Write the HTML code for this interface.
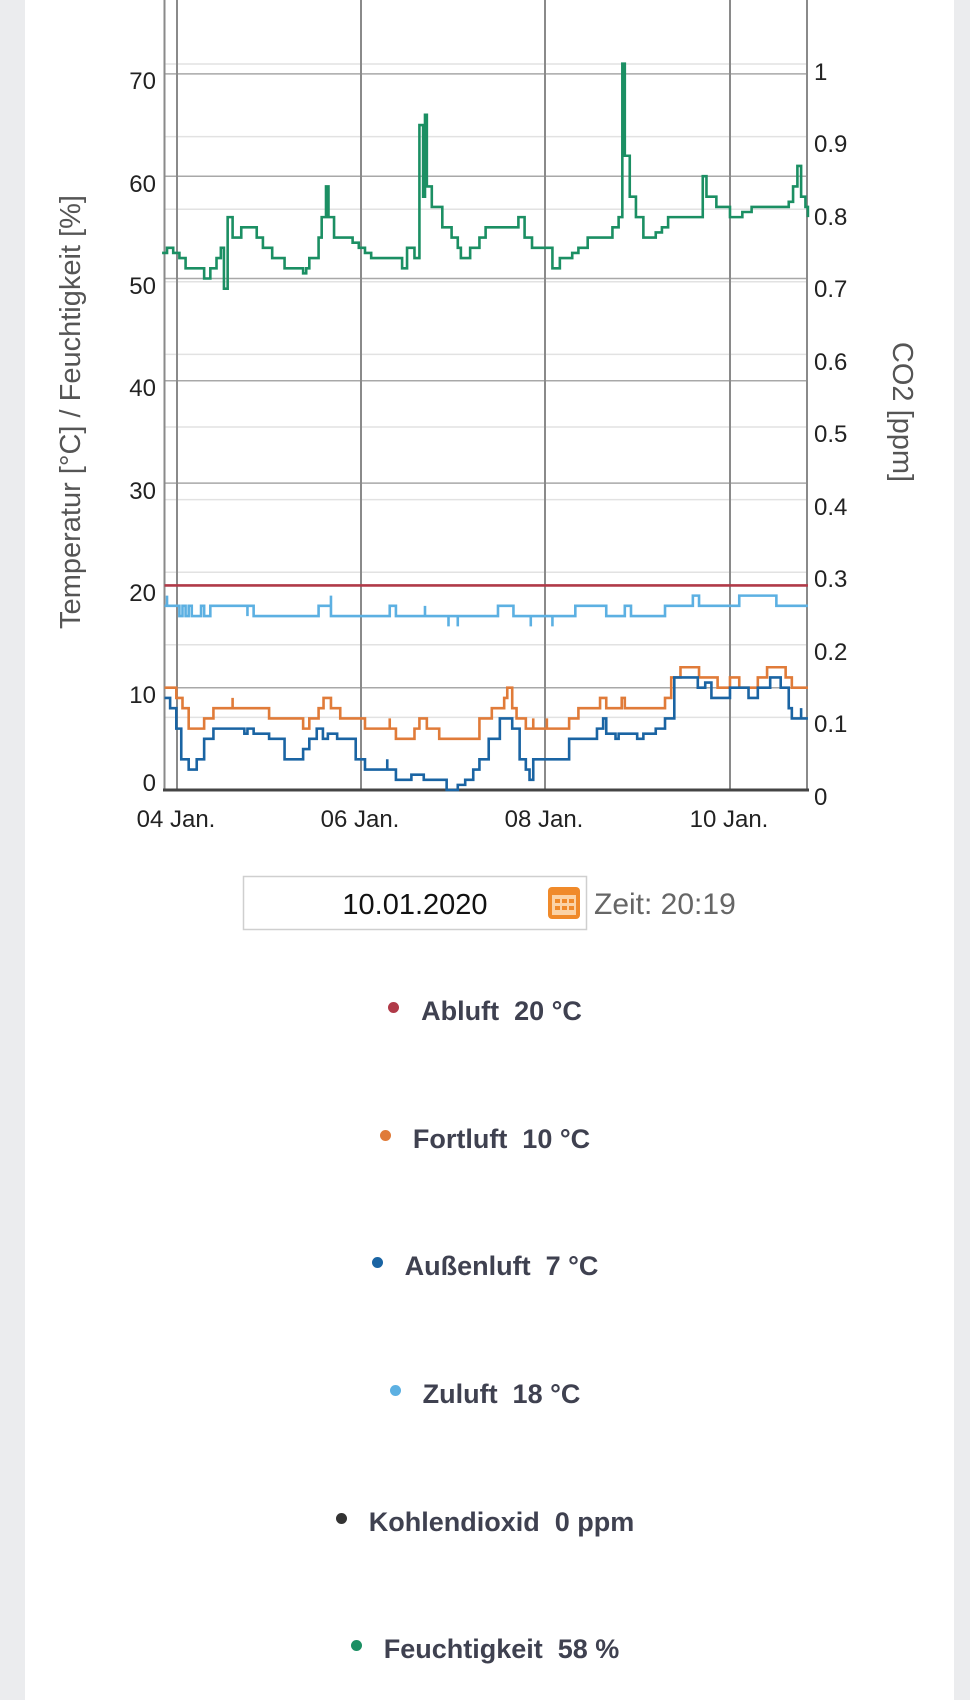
<!DOCTYPE html>
<html><head><meta charset="utf-8"><style>
html,body{margin:0;padding:0;}
body{width:970px;height:1700px;background:#ebecee;position:relative;overflow:hidden;font-family:"Liberation Sans",sans-serif;}
#card{position:absolute;left:25px;top:0;width:929px;height:1700px;background:#fff;}
svg{position:absolute;left:0;top:0;}
.leg{position:absolute;left:0;width:970px;text-align:center;font-weight:bold;font-size:27px;color:#3f4150;white-space:pre;}
.leg span.d{display:inline-block;width:11px;height:11px;border-radius:50%;margin-right:22px;vertical-align:7px;}
</style></head><body>
<div id="card"></div>
<svg width="970" height="1700" viewBox="0 0 970 1700">
  <g stroke="#e2e2e2" stroke-width="1.5">
    <line x1="164" x2="807" y1="717.4" y2="717.4"/><line x1="164" x2="807" y1="644.8" y2="644.8"/>
    <line x1="164" x2="807" y1="572.2" y2="572.2"/><line x1="164" x2="807" y1="499.6" y2="499.6"/>
    <line x1="164" x2="807" y1="427" y2="427"/><line x1="164" x2="807" y1="354.4" y2="354.4"/>
    <line x1="164" x2="807" y1="281.8" y2="281.8"/><line x1="164" x2="807" y1="209.2" y2="209.2"/>
    <line x1="164" x2="807" y1="136.6" y2="136.6"/><line x1="164" x2="807" y1="64" y2="64"/>
  </g>
  <g stroke="#a8a8a8" stroke-width="1.5">
    <line x1="164" x2="807" y1="687.7" y2="687.7"/><line x1="164" x2="807" y1="585.4" y2="585.4"/>
    <line x1="164" x2="807" y1="483.1" y2="483.1"/><line x1="164" x2="807" y1="380.8" y2="380.8"/>
    <line x1="164" x2="807" y1="278.5" y2="278.5"/><line x1="164" x2="807" y1="176.2" y2="176.2"/>
    <line x1="164" x2="807" y1="73.9" y2="73.9"/>
  </g>
  <g stroke="#8a8a8a" stroke-width="2">
    <line x1="177" x2="177" y1="0" y2="790"/><line x1="361" x2="361" y1="0" y2="790"/>
    <line x1="545" x2="545" y1="0" y2="790"/><line x1="730" x2="730" y1="0" y2="790"/>
    <line x1="807" x2="807" y1="0" y2="790"/><line x1="164.5" x2="164.5" y1="0" y2="790"/>
  </g>
  <line x1="163" x2="809" y1="790" y2="790" stroke="#444" stroke-width="3"/>
  <g font-size="24" fill="#222" text-anchor="end">
    <text x="156" y="89">70</text><text x="156" y="192">60</text><text x="156" y="294">50</text>
    <text x="156" y="396">40</text><text x="156" y="499">30</text><text x="156" y="601">20</text>
    <text x="156" y="703">10</text><text x="156" y="791">0</text>
  </g>
  <g font-size="24" fill="#222">
    <text x="814" y="80">1</text><text x="814" y="152">0.9</text><text x="814" y="225">0.8</text>
    <text x="814" y="297">0.7</text><text x="814" y="370">0.6</text><text x="814" y="442">0.5</text>
    <text x="814" y="515">0.4</text><text x="814" y="587">0.3</text><text x="814" y="660">0.2</text>
    <text x="814" y="732">0.1</text><text x="814" y="805">0</text>
  </g>
  <g font-size="24" fill="#222" text-anchor="middle">
    <text x="176" y="827">04 Jan.</text><text x="360" y="827">06 Jan.</text>
    <text x="544" y="827">08 Jan.</text><text x="729" y="827">10 Jan.</text>
  </g>
  <text transform="translate(80,412) rotate(-90)" font-size="29" fill="#555" text-anchor="middle">Temperatur [°C] / Feuchtigkeit [%]</text>
  <text transform="translate(893,412) rotate(90)" font-size="29" fill="#555" text-anchor="middle">CO2 [ppm]</text>

  <g transform="matrix(0.61862,0,0,-10.23,0,790)" fill="none" stroke-width="2.6" stroke-linejoin="miter">
    <path vector-effect="non-scaling-stroke" stroke="#b03a48" d="M266 20 H1306"/>
    <path vector-effect="non-scaling-stroke" stroke="#5cb0e2" d="M266 18 H270 V19 V18 H290 V17 H295 V18 H300 V17 H305 V18 H310 V17 H325 V18 H330 V17 H340 V18 H400 V17 V18 H410 V17 H515 V18 H535 V19 V17 H630 V18 H640 V17 H687 V18 V17 H725 V16 V17 H740 V16 V17 H805 V18 H830 V17 H858 V16 V17 H893 V16 V17 H930 V18 H980 V17 H1010 V18 H1020 V17 H1075 V18 H1120 V19 H1130 V18 H1195 V19 H1255 V18 H1306"/>
    <path vector-effect="non-scaling-stroke" stroke="#e07b39" d="M266 10 H285 V9 H295 V8 H305 V6 H330 V7 H345 V8 H376 V9 V8 H435 V7 H490 V6 H500 V7 H515 V8 H523 V9 H535 V8 H550 V7 H590 V6 H630 V7 V6 H640 V5 H670 V6 H678 V7 H690 V6 H710 V5 H775 V7 H795 V8 H815 V9 H820 V10 H828 V8 H835 V7 H850 V6 H862 V7 V6 H884 V7 V6 H920 V7 H935 V8 H970 V9 H980 V8 H1005 V9 H1010 V8 H1075 V9 H1085 V11 H1100 V12 H1130 V11 H1160 V10 H1180 V11 H1195 V10 H1225 V11 H1240 V12 H1270 V11 H1280 V10 H1306"/>
    <path vector-effect="non-scaling-stroke" stroke="#1a64a3" d="M266 9 H275 V8 H285 V6 H293 V3 H305 V2 H318 V3 H330 V5 H345 V6 H370 V6 H395 V5.5 H400 V6 H410 V5.5 H435 V5 H460 V3 H490 V4 H500 V5 H512 V6 H522 V5 H530 V5.5 H545 V5 H575 V3 H590 V2 H626 V3 V2 H640 V1 H665 V1.5 H685 V1 H722 V0 H740 V0.5 H752 V1 H765 V2 H775 V3 H790 V5 H808 V7 H828 V6 H840 V3 H850 V2 H856 V1 H862 V3 H895 V3 H920 V5 H965 V6 H975 V7 H980 V5.5 H995 V5 H1000 V5.5 H1030 V5 H1040 V5.5 H1060 V6 H1075 V7 H1090 V11 H1128 V10 H1140 V10.5 H1150 V9 H1160 V9 H1180 V10 H1205 V10 H1210 V9 H1225 V10 H1245 V11 H1262 V10 H1275 V8 H1280 V7 H1295 V8 V7 H1306"/>
    <path vector-effect="non-scaling-stroke" stroke="#1b8f63" d="M262 52.5 H270 V53 H280 V52.5 H290 V52 H300 V51 H330 V50 H340 V51 H350 V52 H357 V53 H362 V49 H368 V56 H376 V54 H390 V55 H415 V54 H425 V53 H440 V52 H460 V51 H490 V50.5 H495 V51 H500 V52 H515 V54 H520 V56 H527 V59 H531 V56 H540 V54 H570 V53.5 H580 V53 H590 V52.5 H600 V52 H650 V51 H658 V53 H670 V52 H678 V65 H684 V58 H687 V66 H690 V59 H698 V57 H715 V55 H730 V54 H740 V53 H745 V52 H760 V53 H775 V54 H785 V55 H838 V56 H848 V54 H860 V53 H885 V53 H893 V51 H905 V52 H925 V52.5 H935 V53 H950 V54 H990 V55 H1000 V56 H1006 V71 H1010 V62 H1018 V58 H1028 V56 H1040 V54 H1060 V54.5 H1070 V55 H1080 V56 H1136 V60 H1142 V58 H1158 V57 H1180 V56 H1200 V56.5 H1215 V57 H1275 V57.5 H1282 V59 H1289 V61 H1295 V58 H1302 V57 H1306 V56"/>
  </g>

  <rect x="243.5" y="876.5" width="343" height="53" fill="#fff" stroke="#cfcfcf" stroke-width="1.5"/>
  <text x="415" y="914" font-size="29" fill="#111" text-anchor="middle">10.01.2020</text>
  <g>
    <rect x="548" y="887" width="32" height="32" rx="4" fill="#f08a2a"/>
    <rect x="552" y="895" width="24" height="20" fill="#fbd3a6"/>
    <g fill="#f08a2a">
      <rect x="555" y="899" width="5" height="4"/><rect x="562" y="899" width="5" height="4"/><rect x="569" y="899" width="5" height="4"/>
      <rect x="555" y="906" width="5" height="4"/><rect x="562" y="906" width="5" height="4"/><rect x="569" y="906" width="5" height="4"/>
    </g>
  </g>
  <text x="594" y="914" font-size="30" fill="#666">Zeit: 20:19</text>
</svg>
<div class="leg" style="top:996px"><span class="d" style="background:#b03a48"></span>Abluft  20 °C</div>
<div class="leg" style="top:1124px"><span class="d" style="background:#e07b39"></span>Fortluft  10 °C</div>
<div class="leg" style="top:1251px"><span class="d" style="background:#1a64a3"></span>Außenluft  7 °C</div>
<div class="leg" style="top:1379px"><span class="d" style="background:#5cb0e2"></span>Zuluft  18 °C</div>
<div class="leg" style="top:1507px"><span class="d" style="background:#333"></span>Kohlendioxid  0 ppm</div>
<div class="leg" style="top:1634px"><span class="d" style="background:#1b8f63"></span>Feuchtigkeit  58 %</div>
</body></html>
